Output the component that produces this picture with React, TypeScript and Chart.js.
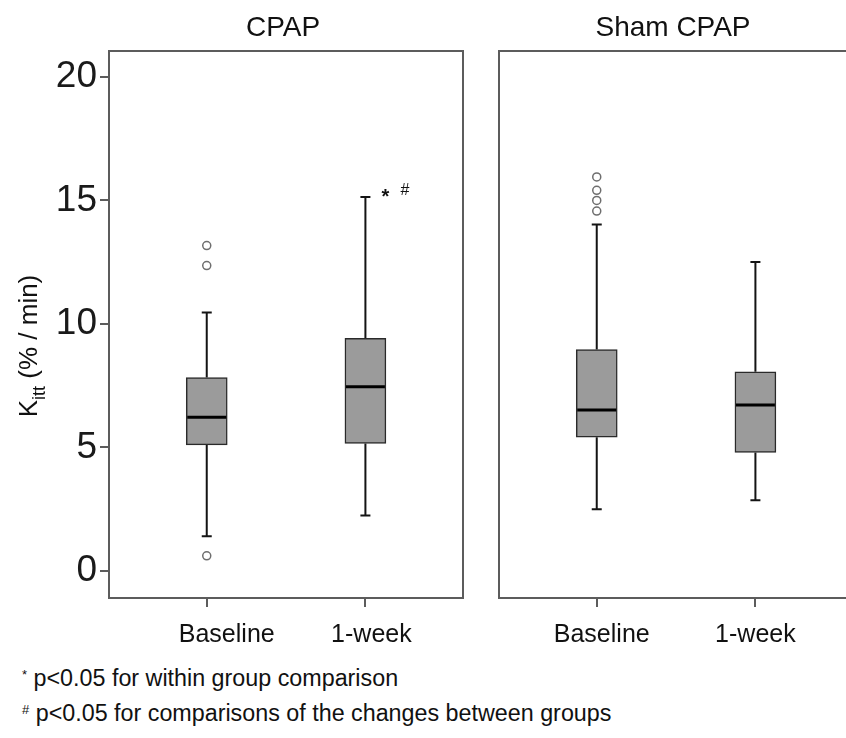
import React, { useEffect, useRef } from "react";
import { Chart, registerables } from "chart.js";

Chart.register(...registerables);

// ---------- data ----------
const CATEGORIES = ["Baseline", "1-week"];
const GROUPS = ["CPAP", "Sham CPAP"];

const CPAP_WHISKER_LOW = [1.4, 2.24];
const CPAP_Q1 = [5.1, 5.16];
const CPAP_MEDIAN = [6.22, 7.45];
const CPAP_Q3 = [7.83, 9.41];
const CPAP_WHISKER_HIGH = [10.46, 15.14];
const CPAP_OUTLIERS = [[13.17, 12.36, 0.61], []];

const SHAM_WHISKER_LOW = [2.49, 2.86];
const SHAM_Q1 = [5.41, 4.79];
const SHAM_MEDIAN = [6.51, 6.72];
const SHAM_Q3 = [8.96, 8.06];
const SHAM_WHISKER_HIGH = [14.02, 12.51];
const SHAM_OUTLIERS = [[15.95, 15.41, 15.0, 14.57], []];

const Y_TICKS = [0, 5, 10, 15, 20];
const Y_MIN = -1.1;
const Y_MAX = 21.05;
const X_MIN = -0.616;
const X_MAX = 1.615;

const Y_TITLE_MAIN = "K";
const Y_TITLE_SUB = "itt";
const Y_TITLE_REST = " (% / min)";

const FOOTNOTES = [
  { mark: "*", text: "p<0.05 for within group comparison" },
  { mark: "#", text: "p<0.05 for comparisons of the changes between groups" },
];

// ---------- styles ----------
const FONT = "'Liberation Sans', Arial, Helvetica, sans-serif";
const FRAME_COLOR = "#5c5c5c";
const BOX_FILL = "#9b9b9b";
const BOX_EDGE = "#2a2a2a";
const WHISKER_COLOR = "#141414";
const OUTLIER_COLOR = "#6e6e6e";

type Panel = {
  title: string;
  low: number[];
  q1: number[];
  median: number[];
  q3: number[];
  high: number[];
  outliers: number[][];
  showY: boolean;
  labelShift: number[];
  annotateIndex: number | null;
  padLeft: number;
  padRight: number;
  width: number;
  left: number;
};

const PANELS: Panel[] = [
  {
    title: GROUPS[0],
    low: CPAP_WHISKER_LOW,
    q1: CPAP_Q1,
    median: CPAP_MEDIAN,
    q3: CPAP_Q3,
    high: CPAP_WHISKER_HIGH,
    outliers: CPAP_OUTLIERS,
    showY: true,
    labelShift: [20, 6],
    annotateIndex: 1,
    padLeft: 0,
    padRight: 17,
    width: 480,
    left: 0,
  },
  {
    title: GROUPS[1],
    low: SHAM_WHISKER_LOW,
    q1: SHAM_Q1,
    median: SHAM_MEDIAN,
    q3: SHAM_Q3,
    high: SHAM_WHISKER_HIGH,
    outliers: SHAM_OUTLIERS,
    showY: false,
    labelShift: [5, 0],
    annotateIndex: null,
    padLeft: 19,
    padRight: 27,
    width: 400,
    left: 480,
  },
];

const CANVAS_H = 660;
const BOX_W = 41;

function makePlugin(p: Panel) {
  return {
    id: "boxExtras",
    beforeDatasetsDraw(chart: any) {
      const ctx = chart.ctx;
      const xs = chart.scales.x;
      const ys = chart.scales.y;
      ctx.save();
      ctx.strokeStyle = WHISKER_COLOR;
      ctx.lineWidth = 2;
      p.low.forEach((lo, i) => {
        const x = xs.getPixelForValue(i);
        const yLo = ys.getPixelForValue(lo);
        const yHi = ys.getPixelForValue(p.high[i]);
        const yQ1 = ys.getPixelForValue(p.q1[i]);
        const yQ3 = ys.getPixelForValue(p.q3[i]);
        ctx.beginPath();
        ctx.moveTo(x, yLo);
        ctx.lineTo(x, yQ1);
        ctx.moveTo(x, yQ3);
        ctx.lineTo(x, yHi);
        ctx.moveTo(x - 5, yLo);
        ctx.lineTo(x + 5, yLo);
        ctx.moveTo(x - 5, yHi);
        ctx.lineTo(x + 5, yHi);
        ctx.stroke();
      });
      ctx.restore();
    },
    afterDatasetsDraw(chart: any) {
      const ctx = chart.ctx;
      const xs = chart.scales.x;
      const ys = chart.scales.y;
      ctx.save();
      ctx.strokeStyle = "#000";
      ctx.lineWidth = 3;
      p.median.forEach((m, i) => {
        const x = xs.getPixelForValue(i);
        const y = ys.getPixelForValue(m);
        ctx.beginPath();
        ctx.moveTo(x - BOX_W / 2 + 1, y);
        ctx.lineTo(x + BOX_W / 2 - 1, y);
        ctx.stroke();
      });
      ctx.restore();
    },
    afterDraw(chart: any) {
      const ctx = chart.ctx;
      const a = chart.chartArea;
      const xs = chart.scales.x;
      const ys = chart.scales.y;
      ctx.save();
      // frame
      ctx.strokeStyle = FRAME_COLOR;
      ctx.lineWidth = 2;
      ctx.strokeRect(a.left, a.top, a.right - a.left, a.bottom - a.top);
      // panel title
      ctx.fillStyle = "#111";
      ctx.font = `28px ${FONT}`;
      ctx.textAlign = "center";
      ctx.textBaseline = "alphabetic";
      ctx.fillText(p.title, (a.left + a.right) / 2 - 3, 36);
      // category labels
      ctx.font = `25px ${FONT}`;
      CATEGORIES.forEach((c, i) => {
        ctx.fillText(c, xs.getPixelForValue(i) + p.labelShift[i], 642);
      });
      // annotation
      if (p.annotateIndex !== null) {
        const i = p.annotateIndex;
        const x = xs.getPixelForValue(i);
        const y = ys.getPixelForValue(p.high[i]);
        ctx.textAlign = "left";
        ctx.font = `bold 20px ${FONT}`;
        ctx.fillText("*", x + 16, y + 6);
        ctx.font = `16px ${FONT}`;
        ctx.fillText("#", x + 35, y - 2);
      }
      // y-axis title with subscript
      if (p.showY) {
        ctx.translate(37, 346);
        ctx.rotate(-Math.PI / 2);
        ctx.textAlign = "left";
        ctx.font = `26px ${FONT}`;
        const wK = ctx.measureText(Y_TITLE_MAIN).width;
        const wR = ctx.measureText(Y_TITLE_REST).width;
        ctx.font = `18px ${FONT}`;
        const wS = ctx.measureText(Y_TITLE_SUB).width;
        let x = -(wK + wS + wR) / 2;
        ctx.font = `26px ${FONT}`;
        ctx.fillText(Y_TITLE_MAIN, x, 0);
        x += wK;
        ctx.font = `18px ${FONT}`;
        ctx.fillText(Y_TITLE_SUB, x, 8);
        x += wS;
        ctx.font = `26px ${FONT}`;
        ctx.fillText(Y_TITLE_REST, x, 0);
      }
      ctx.restore();
    },
  };
}

function PanelChart({ p }: { p: Panel }) {
  const ref = useRef<HTMLCanvasElement>(null);
  useEffect(() => {
    if (!ref.current) return;
    const boxData = p.q1.map((q, i) => ({ x: i, y: [q, p.q3[i]] }));
    const outlierData = p.outliers.flatMap((arr, i) => arr.map((v) => ({ x: i, y: v })));
    const chart = new Chart(ref.current, {
      type: "bar",
      data: {
        datasets: [
          {
            type: "scatter",
            data: outlierData,
            pointStyle: "circle",
            pointRadius: 4,
            pointBorderWidth: 1.5,
            pointBorderColor: OUTLIER_COLOR,
            pointBackgroundColor: "rgba(255,255,255,0)",
          } as any,
          {
            type: "bar",
            data: boxData as any,
            backgroundColor: BOX_FILL,
            borderColor: BOX_EDGE,
            borderWidth: 1.5,
            borderSkipped: false,
            barThickness: BOX_W,
          } as any,
        ],
      },
      options: {
        animation: false,
        responsive: false,
        events: [],
        layout: { padding: { left: p.padLeft, right: p.padRight, top: 51, bottom: 0 } },
        plugins: { legend: { display: false }, tooltip: { enabled: false }, title: { display: false } },
        scales: {
          x: {
            type: "linear",
            min: X_MIN,
            max: X_MAX,
            offset: false,
            afterBuildTicks: (s: any) => {
              s.ticks = CATEGORIES.map((_, i) => ({ value: i }));
            },
            afterFit: (s: any) => {
              s.height = 62;
            },
            grid: {
              offset: false,
              drawOnChartArea: false,
              drawTicks: true,
              tickLength: 9,
              color: FRAME_COLOR,
              lineWidth: 2,
            },
            border: { display: false },
            ticks: { display: false },
          },
          y: {
            type: "linear",
            display: p.showY ? true : false,
            min: Y_MIN,
            max: Y_MAX,
            afterBuildTicks: (s: any) => {
              s.ticks = Y_TICKS.map((v) => ({ value: v }));
            },
            afterFit: (s: any) => {
              s.width = p.showY ? 109 : 0;
            },
            grid: {
              drawOnChartArea: false,
              drawTicks: true,
              tickLength: 9,
              color: FRAME_COLOR,
              lineWidth: 2,
            },
            border: { display: false },
            ticks: {
              font: { family: FONT, size: 37 },
              color: "#1a1a1a",
              padding: 3,
            },
          },
        },
      } as any,
      plugins: [makePlugin(p)],
    });
    return () => chart.destroy();
  }, [p]);
  return (
    <canvas
      ref={ref}
      width={p.width}
      height={CANVAS_H}
      style={{ position: "absolute", left: p.left, top: 0, width: p.width, height: CANVAS_H }}
    />
  );
}

export default function App() {
  return (
    <div
      style={{
        position: "fixed",
        left: 0,
        top: 0,
        width: 846,
        height: 738,
        overflow: "hidden",
        background: "#fff",
        fontFamily: FONT,
        color: "#111",
      }}
    >
      {PANELS.map((p, i) => (
        <PanelChart key={i} p={p} />
      ))}
      {FOOTNOTES.map((f, i) => (
        <div
          key={i}
          style={{
            position: "absolute",
            left: 22,
            top: 667 + i * 35,
            fontSize: 23.3,
            lineHeight: "23px",
            whiteSpace: "nowrap",
          }}
        >
          <span style={{ fontSize: 13, position: "relative", top: -7 }}>{f.mark}</span>
          <span> {f.text}</span>
        </div>
      ))}
    </div>
  );
}
